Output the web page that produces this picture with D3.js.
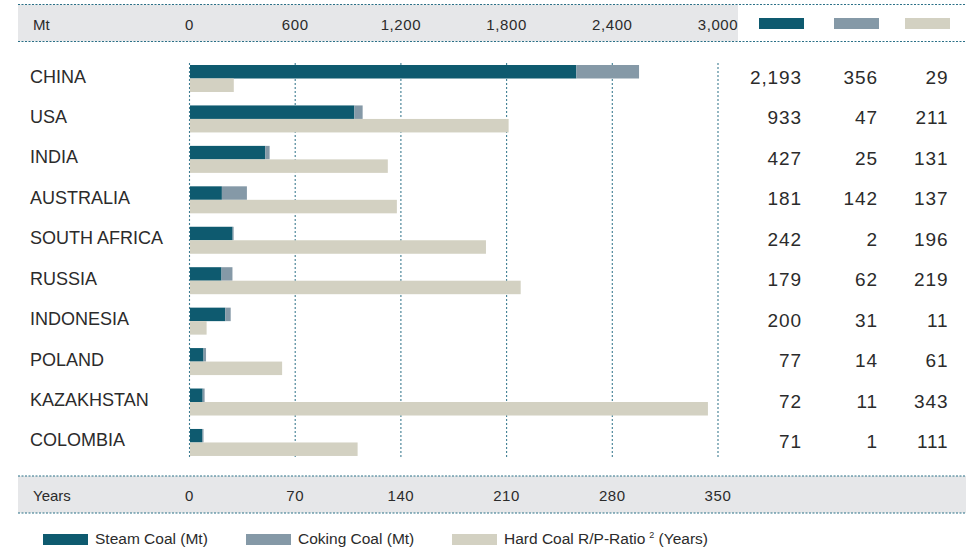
<!DOCTYPE html>
<html>
<head>
<meta charset="utf-8">
<script src="https://cdn.jsdelivr.net/npm/d3@7"></script>
<style>
  html, body { margin: 0; padding: 0; background: #fff; }
  svg { display: block; font-family: "Liberation Sans", Arial, sans-serif; }
</style>
</head>
<body>
<svg id="chart" width="966" height="548"></svg>
<script>
// Hard coal: production by type (Mt) and reserves-to-production ratio (years)
const countries = ["CHINA", "USA", "INDIA", "AUSTRALIA", "SOUTH AFRICA", "RUSSIA", "INDONESIA", "POLAND", "KAZAKHSTAN", "COLOMBIA"];
const steamCoal = [2193, 933, 427, 181, 242, 179, 200, 77, 72, 71];
const cokingCoal = [356, 47, 25, 142, 2, 62, 31, 14, 11, 1];
const rpRatio = [29, 211, 131, 137, 196, 219, 11, 61, 343, 111];
const mtTicks = [0, 600, 1200, 1800, 2400, 3000];
const yearTicks = [0, 70, 140, 210, 280, 350];
const seriesNames = ["Steam Coal (Mt)", "Coking Coal (Mt)", "Hard Coal R/P-Ratio"];

const colors = { steam: "#0e5a6f", coking: "#8599a7", years: "#d3d1c2" };
const bandGray = "#e6e7e9";
const dotColor = "#2b7087";
const textColor = "#2b2b2b";

const svg = d3.select("#chart");

const xMt = d3.scaleLinear().domain([0, 3000]).range([189.5, 718]);
const xYears = d3.scaleLinear().domain([0, 350]).range([189.5, 718]);
const yRow = d3.scalePoint().domain(countries).range([65, 65 + 9 * 40.44]);
const barH = 13.5;

// Header band (Mt scale)
svg.append("rect").attr("x", 18).attr("y", 4.5).attr("width", 720).attr("height", 37).attr("fill", bandGray);
// Footer band (years scale)
svg.append("rect").attr("x", 18).attr("y", 476).attr("width", 948).attr("height", 37).attr("fill", bandGray);

// Dotted rules above and below each band
[4.5, 41.5, 476, 513].forEach(y => {
  svg.append("line")
    .attr("x1", 18).attr("x2", 966).attr("y1", y).attr("y2", y)
    .attr("stroke", dotColor).attr("stroke-width", 1)
    .attr("stroke-dasharray", "2,1.5");
});

// Vertical grid lines
svg.append("g").selectAll("line").data(mtTicks).join("line")
  .attr("x1", d => xMt(d)).attr("x2", d => xMt(d))
  .attr("y1", 63).attr("y2", 457)
  .attr("stroke", dotColor).attr("stroke-width", 1.1)
  .attr("stroke-dasharray", "2,2")
  .attr("opacity", 0.9);

// Tick labels, top (Mt)
const tickFont = { size: "15px", spacing: "0.6px" };
svg.append("text").attr("x", 33).attr("y", 29.5)
  .attr("font-size", tickFont.size).attr("fill", textColor).text("Mt");
svg.append("g").selectAll("text").data(mtTicks).join("text")
  .attr("x", d => xMt(d)).attr("y", 29.5)
  .attr("text-anchor", "middle")
  .attr("font-size", tickFont.size).attr("letter-spacing", tickFont.spacing)
  .attr("fill", textColor)
  .text(d => d3.format(",")(d));

// Tick labels, bottom (years)
svg.append("text").attr("x", 33).attr("y", 501)
  .attr("font-size", tickFont.size).attr("fill", textColor).text("Years");
svg.append("g").selectAll("text").data(yearTicks).join("text")
  .attr("x", d => xYears(d)).attr("y", 501)
  .attr("text-anchor", "middle")
  .attr("font-size", tickFont.size).attr("letter-spacing", tickFont.spacing)
  .attr("fill", textColor)
  .text(d => d);

// Column colour keys in the header
const colRight = [804, 879, 950];
const keyColors = [colors.steam, colors.coking, colors.years];
svg.append("g").selectAll("rect").data(keyColors).join("rect")
  .attr("x", (d, i) => colRight[i] - 45).attr("y", 18)
  .attr("width", 45).attr("height", 11)
  .attr("fill", d => d);

// Rows
const rows = countries.map((c, i) => ({
  country: c, steam: steamCoal[i], coking: cokingCoal[i], years: rpRatio[i]
}));

const g = svg.append("g");

g.selectAll("text.country").data(rows).join("text")
  .attr("class", "country")
  .attr("x", 30).attr("y", d => yRow(d.country) + 17.5)
  .attr("font-size", "18px").attr("fill", textColor)
  .text(d => d.country);

// Steam coal bar
g.selectAll("rect.steam").data(rows).join("rect")
  .attr("class", "steam")
  .attr("x", xMt(0) + 0.5).attr("y", d => yRow(d.country))
  .attr("width", d => xMt(d.steam) - xMt(0))
  .attr("height", barH)
  .attr("fill", colors.steam);

// Coking coal stacked on top of steam coal
g.selectAll("rect.coking").data(rows).join("rect")
  .attr("class", "coking")
  .attr("x", d => xMt(d.steam) + 0.5).attr("y", d => yRow(d.country))
  .attr("width", d => Math.max(1, xMt(d.steam + d.coking) - xMt(d.steam)))
  .attr("height", barH)
  .attr("fill", colors.coking);

// Reserves-to-production ratio bar
g.selectAll("rect.years").data(rows).join("rect")
  .attr("class", "years")
  .attr("x", xYears(0) + 0.5).attr("y", d => yRow(d.country) + barH)
  .attr("width", d => xYears(d.years) - xYears(0))
  .attr("height", barH)
  .attr("fill", colors.years);

// Value table
const valueCols = [
  { key: "steam", x: 802 },
  { key: "coking", x: 878 },
  { key: "years", x: 948.5 }
];
valueCols.forEach(col => {
  g.selectAll("text.v-" + col.key).data(rows).join("text")
    .attr("class", "v-" + col.key)
    .attr("x", col.x).attr("y", d => yRow(d.country) + 19)
    .attr("text-anchor", "end")
    .attr("font-size", "19px").attr("letter-spacing", "0.9px")
    .attr("fill", textColor)
    .text(d => d3.format(",")(d[col.key]));
});

// Legend
const legend = [
  { x: 43, color: colors.steam, label: seriesNames[0] },
  { x: 246, color: colors.coking, label: seriesNames[1] },
  { x: 452, color: colors.years, label: seriesNames[2], sup: "2", tail: " (Years)" }
];
const lg = svg.append("g").selectAll("g").data(legend).join("g");
lg.append("rect")
  .attr("x", d => d.x).attr("y", 534).attr("width", 45).attr("height", 11)
  .attr("fill", d => d.color);
const lt = lg.append("text")
  .attr("x", d => d.x + 52).attr("y", 544)
  .attr("font-size", "15.5px").attr("fill", textColor);
lt.append("tspan").text(d => d.label);
lt.filter(d => d.sup).append("tspan")
  .attr("font-size", "9px").attr("dx", 4).attr("dy", -6).text(d => d.sup);
lt.filter(d => d.tail).append("tspan")
  .attr("dy", 6).text(d => d.tail);
</script>
</body>
</html>
